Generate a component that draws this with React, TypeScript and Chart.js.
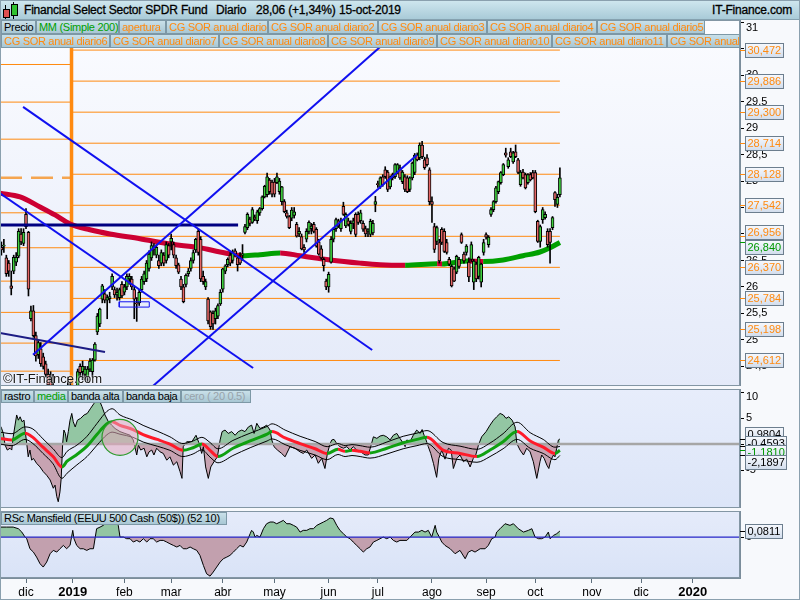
import React, { useEffect, useRef } from 'react';
import { Chart, registerables } from 'chart.js';

Chart.register(...registerables);

const FONT = '"Liberation Sans", Arial, Helvetica, sans-serif';
const ORANGE = '#ff8a10';

// ---------- x axis: trading-session index (0 = first session of December 2018) ----------
const X_MIN = -10.57;
const X_MAX = 290.2;
const monthTicks = [0, 19, 40, 59, 80, 101, 123, 143, 165, 187, 207, 230, 250, 271];
const monthLabels = ['dic', '2019', 'feb', 'mar', 'abr', 'may', 'jun', 'jul', 'ago', 'sep', 'oct', 'nov', 'dic', '2020'];

// ---------- daily candles [open, high, low, close], first one = session -10 ----------
const FIRST_BAR = -10;
const candles = [
  [26.75, 26.85, 26.6, 26.7], [26.77, 26.9, 26.65, 26.78], [26.55, 26.6, 26.2, 26.25], [26.45, 26.5, 26.2, 26.3],
  [26.02, 26.3, 25.85, 25.97], [26.3, 26.6, 26.25, 26.56], [26.47, 26.65, 26.4, 26.56], [26.58, 27.1, 26.55, 27.05],
  [27.0, 27.1, 26.8, 26.85], [26.82, 27.1, 26.78, 27.03],
  // dic
  [27.37, 27.48, 27.1, 27.14], [27.03, 27.05, 25.83, 25.96], [25.4, 25.64, 25.36, 25.55], [25.55, 25.65, 25.05, 25.08],
  [25.08, 25.15, 24.6, 24.7], [24.72, 25.0, 24.65, 24.95], [24.83, 24.95, 24.5, 24.55], [24.68, 24.75, 24.45, 24.5],
  [24.55, 24.6, 24.3, 24.35], [24.35, 24.45, 24.05, 24.15], [24.25, 24.4, 23.95, 24.05], [24.1, 24.35, 23.7, 23.75],
  [23.7, 23.9, 23.3, 23.4], [23.45, 23.7, 23.1, 23.2], [23.2, 23.3, 22.8, 22.85], [23.0, 23.9, 22.95, 23.85],
  [23.6, 24.1, 23.3, 24.05], [24.05, 24.3, 23.85, 23.95], [24.0, 24.2, 23.9, 24.1],
  // 2019 ene
  [23.6, 23.95, 23.5, 23.9], [23.75, 23.9, 23.4, 23.45], [23.95, 24.45, 23.9, 24.4], [24.5, 24.55, 24.3, 24.38],
  [24.4, 24.6, 24.25, 24.5], [24.35, 24.5, 24.25, 24.45], [24.3, 24.5, 24.2, 24.45], [24.45, 24.65, 24.4, 24.6],
  [24.4, 24.65, 24.3, 24.62], [24.62, 24.95, 24.6, 24.92], [25.15, 25.5, 25.1, 25.45], [25.3, 25.6, 25.25, 25.58],
  [25.77, 26.05, 25.7, 26.02], [25.87, 25.95, 25.7, 25.75], [25.75, 25.85, 25.4, 25.8], [25.78, 25.9, 25.7, 25.82],
  [26.0, 26.25, 25.95, 26.2], [25.95, 26.0, 25.8, 25.85], [25.85, 25.98, 25.75, 25.9], [25.8, 25.98, 25.75, 25.95],
  [26.05, 26.1, 25.8, 25.83],
  // feb
  [25.9, 26.05, 25.85, 26.0], [26.0, 26.25, 25.95, 26.2], [26.15, 26.25, 26.05, 26.2], [26.15, 26.2, 25.95, 26.0],
  [25.95, 26.0, 25.4, 25.77], [25.7, 25.8, 25.35, 25.68], [25.7, 25.95, 25.65, 25.9], [25.95, 26.2, 25.9, 26.15],
  [26.1, 26.3, 26.05, 26.25], [26.15, 26.5, 26.1, 26.45], [26.35, 26.68, 26.3, 26.62], [26.55, 26.85, 26.5, 26.78],
  [26.75, 26.82, 26.6, 26.7], [26.6, 26.8, 26.55, 26.75], [26.5, 26.6, 26.35, 26.4], [26.45, 26.7, 26.4, 26.65],
  [26.6, 26.65, 26.4, 26.45], [26.5, 26.85, 26.45, 26.8], [26.78, 26.82, 26.55, 26.6],
  // mar
  [26.85, 27.0, 26.7, 26.92], [26.8, 26.85, 26.55, 26.6], [26.55, 26.6, 26.35, 26.4], [26.42, 26.45, 26.25, 26.28],
  [26.15, 26.2, 25.95, 26.0], [26.0, 26.05, 25.7, 25.72], [26.05, 26.25, 26.0, 26.22], [26.25, 26.35, 26.2, 26.3],
  [26.35, 26.55, 26.3, 26.5], [26.5, 26.7, 26.45, 26.65], [26.7, 26.92, 26.65, 26.9], [27.05, 27.1, 26.6, 26.65],
  [26.9, 26.95, 26.1, 26.15], [26.2, 26.3, 26.05, 26.1], [26.0, 26.15, 25.95, 26.1], [25.77, 25.8, 25.3, 25.36],
  [25.53, 25.55, 25.2, 25.25], [25.5, 25.55, 25.2, 25.3], [25.4, 25.6, 25.3, 25.55], [25.45, 25.68, 25.4, 25.65],
  [25.68, 25.95, 25.65, 25.9],
  // abr
  [25.96, 26.35, 25.9, 26.34], [26.3, 26.42, 26.25, 26.4], [26.42, 26.55, 26.38, 26.52], [26.6, 26.65, 26.4, 26.45],
  [26.5, 26.7, 26.45, 26.65], [26.68, 26.72, 26.58, 26.62], [26.55, 26.6, 26.3, 26.42], [26.55, 26.65, 26.42, 26.45],
  [26.6, 26.8, 26.5, 26.62], [27.03, 27.18, 27.0, 27.14], [27.12, 27.4, 27.08, 27.37], [27.28, 27.32, 27.15, 27.2],
  [27.22, 27.5, 27.2, 27.46], [27.32, 27.36, 27.25, 27.28], [27.25, 27.45, 27.2, 27.42], [27.4, 27.5, 27.35, 27.48],
  [27.48, 27.72, 27.45, 27.7], [27.7, 27.92, 27.68, 27.9], [27.74, 28.15, 27.7, 28.08], [28.02, 28.05, 27.75, 27.8],
  [27.98, 28.02, 27.7, 27.75],
  // may
  [27.98, 28.05, 27.7, 27.75], [27.97, 28.15, 27.95, 28.08], [27.8, 28.05, 27.75, 28.0], [27.61, 27.9, 27.55, 27.89],
  [27.61, 27.65, 27.4, 27.42], [27.4, 27.45, 27.3, 27.33], [27.33, 27.35, 27.1, 27.12], [27.3, 27.5, 27.25, 27.45],
  [27.35, 27.5, 27.3, 27.42], [27.18, 27.22, 26.94, 26.96], [27.0, 27.12, 26.95, 27.05], [26.95, 27.0, 26.7, 26.72],
  [26.75, 26.8, 26.65, 26.7], [26.9, 27.1, 26.85, 27.05], [27.05, 27.25, 27.0, 27.22], [27.1, 27.2, 27.0, 27.15],
  [27.18, 27.22, 27.02, 27.05], [27.09, 27.12, 26.75, 26.77], [26.85, 26.9, 26.6, 26.62], [26.72, 26.78, 26.52, 26.55],
  [26.52, 26.55, 26.3, 26.4], [26.11, 26.15, 25.95, 26.0],
  // jun
  [26.0, 26.28, 25.9, 26.24], [26.47, 26.95, 26.45, 26.9], [26.9, 27.12, 26.85, 27.09], [27.1, 27.3, 27.05, 27.27],
  [27.25, 27.28, 27.12, 27.15], [27.1, 27.3, 27.05, 27.25], [27.52, 27.6, 27.35, 27.37], [27.15, 27.4, 27.12, 27.37],
  [27.25, 27.3, 27.15, 27.18], [27.05, 27.25, 27.0, 27.2], [27.2, 27.3, 27.1, 27.25], [27.37, 27.4, 26.95, 26.99],
  [27.37, 27.42, 27.18, 27.22], [27.25, 27.45, 27.2, 27.4], [27.2, 27.25, 27.05, 27.09], [27.1, 27.15, 26.95, 27.0],
  [27.05, 27.1, 26.95, 27.08], [26.99, 27.28, 26.95, 27.24], [27.02, 27.26, 26.98, 27.2], [27.56, 27.71, 27.42, 27.61],
  // jul
  [27.95, 28.0, 27.88, 27.93], [27.89, 28.08, 27.86, 28.06], [28.08, 28.12, 27.9, 27.93], [28.21, 28.27, 28.05, 28.08],
  [28.17, 28.2, 27.8, 27.84], [27.89, 28.1, 27.85, 28.08], [28.12, 28.15, 28.02, 28.06], [28.08, 28.33, 28.05, 28.31],
  [28.17, 28.33, 28.14, 28.31], [28.25, 28.3, 28.03, 28.06], [27.99, 28.2, 27.95, 28.17], [28.08, 28.12, 27.8, 27.84],
  [28.06, 28.1, 27.78, 27.8], [27.84, 28.08, 27.8, 28.06], [28.06, 28.36, 28.02, 28.34], [28.16, 28.52, 28.12, 28.49],
  [28.49, 28.53, 28.38, 28.4], [28.44, 28.72, 28.4, 28.68], [28.68, 28.75, 28.42, 28.46], [28.4, 28.45, 28.22, 28.25],
  [28.44, 28.5, 28.28, 28.31], [28.21, 28.25, 27.55, 27.61],
  // ago
  [27.61, 27.7, 27.22, 27.56], [27.14, 27.2, 26.65, 26.71], [26.86, 27.15, 26.8, 27.12], [26.84, 26.9, 26.45, 26.49],
  [27.09, 27.12, 26.8, 26.84], [27.05, 27.1, 26.65, 26.67], [26.84, 26.9, 26.62, 26.65], [26.52, 26.56, 26.4, 26.43],
  [26.39, 26.42, 26.0, 26.02], [26.34, 26.38, 26.1, 26.11], [26.28, 26.6, 26.25, 26.58], [26.52, 26.56, 26.35, 26.39],
  [26.99, 27.02, 26.82, 26.84], [26.62, 26.66, 26.45, 26.49], [26.65, 26.8, 26.6, 26.77], [26.47, 26.55, 26.1, 26.19],
  [26.52, 26.85, 26.48, 26.8], [26.09, 26.52, 25.95, 26.49], [26.43, 26.47, 26.1, 26.15], [26.2, 26.58, 26.15, 26.56],
  [26.09, 26.45, 26.0, 26.43], [26.65, 26.9, 26.6, 26.84],
  // sep
  [26.99, 27.02, 26.9, 26.94], [26.8, 26.97, 26.75, 26.94], [27.37, 27.5, 27.33, 27.46], [27.46, 27.63, 27.42, 27.61],
  [27.61, 27.9, 27.58, 27.87], [27.8, 28.0, 27.76, 27.99], [27.97, 28.18, 27.94, 28.16], [28.12, 28.33, 28.1, 28.31],
  [28.53, 28.62, 28.45, 28.49], [28.27, 28.44, 28.24, 28.4], [28.55, 28.62, 28.44, 28.46], [28.36, 28.56, 28.33, 28.53],
  [28.55, 28.68, 28.44, 28.46], [28.4, 28.43, 28.14, 28.16], [27.93, 28.2, 27.9, 28.17], [28.17, 28.22, 28.04, 28.06],
  [28.12, 28.15, 27.85, 27.87], [27.97, 28.14, 27.94, 28.12], [28.12, 28.16, 28.0, 28.02], [28.16, 28.2, 28.04, 28.06],
  // oct
  [28.16, 28.2, 27.4, 27.42], [27.24, 27.26, 26.84, 26.86], [26.86, 27.17, 26.75, 27.14], [27.27, 27.5, 27.2, 27.46],
  [27.31, 27.42, 27.28, 27.37], [27.05, 27.1, 26.75, 26.8], [27.05, 27.1, 26.45, 26.84], [27.12, 27.33, 27.08, 27.31],
  [27.78, 27.8, 27.52, 27.65], [27.56, 27.75, 27.5, 27.69], [27.74, 28.25, 27.7, 28.06],
];

// ---------- 200-session simple moving average ----------
const maX = [-10.57, -2.4, 5.7, 11.8, 17.9, 26, 34.1, 46.3, 58.5, 70.7, 78.9, 88.2, 95.1, 103.3, 111.4, 123.6, 135.8, 143.9, 154.1, 167.1, 169.1, 179.7, 185.8, 193.9, 202, 208.9, 213, 217];
const maY = [27.77, 27.7, 27.51, 27.36, 27.19, 27.08, 27.0, 26.91, 26.81, 26.74, 26.66, 26.59, 26.61, 26.64, 26.59, 26.51, 26.45, 26.42, 26.41, 26.44, 26.435, 26.49, 26.48, 26.51, 26.59, 26.66, 26.74, 26.84];

// ---------- annual SOR levels ----------
const sor2019 = [30.472, 29.886, 29.3, 28.714, 28.128, 27.542, 26.956, 26.37, 25.784, 25.198, 24.612];
const sor2018 = [30.2, 29.49, 28.79, 27.4, 26.74, 26.11, 25.52, 24.94, 24.41];
const apertura2018 = 28.06;
const YEAR_START = 18.5;
const LAST_BAR = 217;

// ---------- drawn trend lines [x1, y1, x2, y2] ----------
const blueLines = [
  [-1.2, 29.4, 140.7, 24.81],
  [-10.57, 27.77, 92.3, 24.47],
  [2.85, 24.72, 143.9, 30.53],
  [51.6, 24.13, 158.9, 28.49],
];
const navyHorizontal = [-10.57, 27.17, 86.2, 27.17];
const navyDiagonal = [-10.57, 25.13, 32.1, 24.77];
const rectX = [37.9, 50.1];
const rectY = [25.62, 25.72];

// ---------- oscillator panel ----------
const rastro = [
  [-10.6, 3.65], [-9.9, 3.0], [-9.2, 2.05], [-8.5, -0.2], [-7.6, -1.15], [-6.5, -0.8], [-5.8, -1.15], [-5.2, 1.4],
  [-3.8, 5.6], [-3.1, 4.6], [-2.4, 5.25], [-1.6, 4.3], [-0.8, 4.6], [-0.3, 2.4], [0.3, 0.1], [0.9, -2.45],
  [1.6, -1.15], [2.3, -3.1], [3.0, -2.75], [4.3, -3.7], [5.7, -4.4], [7.0, -5.3], [8.4, -6.0], [9.8, -6.9],
  [11.1, -8.5], [11.8, -7.9], [12.5, -10.1], [13.1, -11.1], [13.8, -9.2], [14.3, -6.6], [14.9, 0.1], [15.4, 2.7],
  [16.0, 2.05], [16.5, 0.45], [17.2, 2.4], [17.9, 4.6], [18.6, 5.9], [19.2, 4.3], [20.0, 3.3], [20.9, 4.6],
  [22.2, 4.95], [23.6, 5.6], [24.9, 5.9], [26.3, 6.9], [27.6, 7.8], [29.0, 8.8], [30.1, 8.1], [30.9, 7.2],
  [32.1, 5.6], [33.5, 4.3], [34.8, 3.65], [36.2, 3.0], [38.2, 2.4], [40.2, 2.05], [42.3, 1.7], [43.6, 0.8],
  [45.0, -2.1], [45.7, -0.2], [46.6, -1.15], [48.0, -0.8], [49.1, -2.45], [50.0, -1.5], [51.1, -1.15], [52.0, -2.1],
  [53.1, -0.8], [54.5, -1.5], [55.8, -1.8], [57.2, -3.1], [58.5, -2.45], [59.9, -4.05], [61.3, -3.4], [62.6, -5.3],
  [63.4, -6.6], [63.9, -0.5], [65.3, 0.45], [67.4, 0.45], [69.1, 1.7], [70.4, 0.1], [71.4, -1.8], [72.1, -0.5],
  [73.0, -4.4], [74.1, -6.6], [75.1, -4.4], [76.4, -3.4], [77.8, -2.45], [78.9, 0.8], [79.7, 2.4], [80.9, 2.7],
  [82.2, 2.05], [83.6, 2.4], [85.0, 1.7], [86.3, 2.4], [87.7, 2.7], [89.0, 2.4], [90.4, 3.3], [91.7, 3.65],
  [92.7, 2.05], [93.8, 4.0], [95.1, 3.0], [96.7, 3.3], [97.8, 3.65], [99.2, 2.7], [99.9, 0.8], [100.8, -0.5],
  [102.2, -1.15], [103.9, -1.8], [105.3, -2.45], [107.3, -0.5], [109.3, -0.8], [111.4, -1.5], [112.7, -1.8], [114.1, -1.15],
  [116.1, -2.75], [117.5, -2.1], [118.8, -3.7], [120.2, -2.75], [121.5, -4.7], [122.5, -1.8], [123.6, 0.1], [124.3, 0.8],
  [125.2, 0.9], [126.3, 0.1], [127.6, -0.5], [129.0, -0.8], [130.4, -0.5], [131.7, -1.15], [133.0, -0.5], [134.4, -1.15],
  [136.1, -1.5], [137.8, -2.1], [139.1, -2.1], [140.1, -0.5], [141.2, 1.4], [142.6, 1.1], [143.9, 1.55], [145.2, 1.7],
  [146.6, 1.4], [148.0, 0.8], [149.3, 1.7], [150.7, 2.05], [152.0, 1.1], [153.4, 0.1], [154.1, -0.5], [154.8, 0.8],
  [156.1, 0.45], [157.4, 1.7], [158.8, 2.7], [160.2, 2.05], [161.0, 2.8], [161.8, 1.7], [162.6, 0.8], [163.5, -0.5],
  [164.5, -1.8], [165.6, -3.7], [166.9, -6.4], [167.8, -2.75], [169.0, -1.15], [170.3, -2.9], [171.7, -0.8], [172.8, -1.15],
  [173.7, -4.7], [175.1, -2.75], [176.4, -2.1], [177.8, -3.4], [179.1, -2.9], [180.5, -4.4], [181.8, -2.75], [182.8, -2.1],
  [183.9, -0.2], [185.2, 1.4], [187.0, 2.4], [188.6, 3.65], [190.0, 4.6], [191.3, 5.25], [192.7, 5.9], [194.0, 5.6],
  [195.1, 4.95], [196.2, 5.25], [197.6, 4.6], [198.8, 3.3], [199.5, 0.1], [200.8, -1.15], [202.2, -2.1], [203.5, -0.8],
  [204.9, -1.5], [206.2, -3.4], [207.6, -6.6], [208.9, -3.4], [209.6, -2.1], [210.6, -2.75], [211.7, -4.05], [212.5, -4.7],
  [213.3, -3.1], [214.4, -2.1], [215.0, -2.45], [215.7, -0.8], [216.4, 0.8], [217, 0.9804],
];
const mediaX = [-10.6, -5.7, -0.4, 2.8, 6.9, 11, 14.6, 16.7, 20.7, 24.8, 28.9, 32.9, 35, 38.2, 43.5, 47.6, 53.3, 58.5, 63.8, 67.9, 71.5, 74.8, 78, 84.1, 91.1, 98, 100, 105.3, 111.4, 117.5, 122.4, 126.8, 129.7, 132.5, 135.8, 139.8, 146.7, 153.3, 158.9, 163, 169.5, 176.4, 183.3, 188.6, 193.9, 199.6, 204.9, 210.2, 215, 217];
const mediaY = [1.1, 0.8, 2.1, 1.3, -0.6, -2.4, -4.4, -3.3, -2.0, -0.4, 1.9, 3.9, 4.3, 3.6, 2.8, 1.8, 0.9, 0.0, -1.2, -0.7, 0.0, -1.2, -2.4, -0.8, 0.6, 1.9, 2.4, 1.2, 0.1, -0.9, -1.8, -1.0, -1.4, -1.2, -1.4, -1.7, -0.8, 0.25, 0.9, 1.3, -1.15, -1.8, -2.4, -1.15, 0.45, 2.4, 0.6, -0.6, -1.8, -1.181];
const bandaAltaY = [2.3, 2.0, 3.3, 2.9, 1.0, -0.9, -2.6, -1.4, -0.2, 1.5, 4.0, 6.3, 6.8, 5.6, 4.6, 3.6, 2.5, 1.4, 0.1, 0.6, 1.3, 0.3, -0.9, 0.7, 2.1, 3.4, 3.9, 2.7, 1.5, 0.5, -0.5, 0.1, -0.3, -0.1, -0.3, -0.6, 0.4, 1.5, 2.1, 2.6, 0.3, -0.4, -1.0, 0.2, 2.0, 4.2, 2.2, 0.9, -0.6, -0.4593];
const bandaBajaY = [0.0, -0.3, 0.9, 0.1, -1.8, -3.8, -6.6, -5.6, -4.0, -2.4, -0.2, 1.8, 2.3, 1.9, 1.3, 0.4, -0.4, -1.2, -2.4, -1.9, -1.1, -2.5, -3.6, -2.2, -0.7, 0.6, 1.0, -0.1, -1.2, -2.1, -3.0, -2.0, -2.4, -2.2, -2.4, -2.7, -1.9, -0.9, -0.3, 0.1, -2.4, -3.0, -3.5, -2.4, -0.9, 0.9, -0.8, -1.8, -3.0, -2.1897];
const circleMark = { x: 38.2, y: 1.3, r: 18 };

// ---------- RSc Mansfield ----------
const rsc = [
  [-10.6, 0.134], [-7.9, 0.134], [-5.2, 0.134], [-3.1, 0.112], [-1.7, 0.067], [-0.4, 0], [0.3, -0.022], [1.6, -0.157],
  [3.0, -0.202], [4.3, -0.269], [5.7, -0.358], [7.0, -0.403], [8.4, -0.336], [9.8, -0.224], [11.1, -0.179], [12.5, -0.202],
  [13.8, -0.157], [15.2, -0.112], [16.5, -0.157], [17.9, -0.112], [19.0, 0.09], [19.5, -0.022], [20.6, -0.112], [22.0, -0.157],
  [23.3, -0.157], [24.7, -0.179], [26.0, -0.157], [27.4, -0.157], [28.7, 0.112], [30.1, 0.134], [31.4, 0.157], [32.8, 0.202],
  [34.1, 0.224], [35.5, 0.179], [36.9, 0.246], [37.5, 0.157], [38.2, 0], [39.6, 0], [40.9, -0.022], [42.3, -0.022],
  [43.6, -0.067], [45.0, -0.045], [46.3, -0.067], [47.7, -0.022], [49.1, -0.067], [50.4, -0.022], [51.7, -0.022], [53.1, -0.067],
  [54.5, -0.045], [55.8, -0.045], [57.2, -0.067], [58.5, -0.09], [59.9, -0.112], [61.3, -0.134], [62.6, -0.112], [63.9, -0.157],
  [65.3, -0.157], [66.7, -0.134], [68.0, -0.157], [69.4, -0.179], [70.7, -0.246], [72.1, -0.381], [73.4, -0.493], [74.8, -0.525],
  [76.1, -0.47], [77.5, -0.403], [78.9, -0.336], [80.2, -0.291], [81.6, -0.269], [82.9, -0.246], [84.3, -0.202], [85.6, -0.157],
  [87.0, -0.112], [88.3, -0.134], [89.7, -0.067], [91.1, 0.045], [91.7, 0.09], [92.4, 0.067], [93.1, 0], [93.8, 0.022],
  [95.1, 0], [96.5, 0.112], [97.8, 0.179], [99.2, 0.202], [100.5, 0.202], [101.9, 0.179], [103.3, 0.202], [104.6, 0.224],
  [106.0, 0.179], [107.3, 0.179], [108.7, 0.157], [110.0, 0.134], [111.4, 0.067], [112.7, 0.09], [114.1, 0.09], [115.4, 0.112],
  [116.8, 0.112], [118.2, 0.157], [119.5, 0.179], [120.9, 0.202], [122.2, 0.224], [123.6, 0.256], [124.9, 0.246], [126.3, 0.157],
  [127.6, 0.09], [129.0, 0.045], [130.4, 0], [131.7, -0.022], [133.0, -0.067], [134.4, -0.112], [135.8, -0.157], [137.1, -0.202],
  [138.5, -0.157], [139.8, -0.134], [141.2, -0.067], [142.6, -0.045], [143.9, -0.022], [145.2, 0], [146.6, -0.022], [148.0, 0],
  [149.3, -0.045], [150.7, -0.067], [152.0, -0.045], [154.8, -0.045], [156.1, 0], [158.1, 0.067], [159.5, 0.067], [160.9, 0.09],
  [162.2, 0.067], [163.5, 0.09], [164.9, 0], [166.3, 0.157], [166.9, 0.067], [168.0, 0], [169.0, -0.067], [170.3, -0.112],
  [172.4, -0.157], [174.4, -0.224], [176.4, -0.179], [178.5, -0.291], [179.8, -0.202], [181.2, -0.179], [182.5, -0.202], [184.6, -0.157],
  [186.6, -0.157], [187.9, -0.112], [189.3, -0.022], [190.7, 0], [191.3, 0.067], [192.7, 0.112], [194.7, 0.179], [196.7, 0.157],
  [198.1, 0.179], [200.1, 0.112], [202.2, 0.067], [204.2, 0.09], [205.6, 0.112], [206.9, 0], [208.3, -0.022], [209.6, -0.022],
  [211.0, 0], [212.3, 0.067], [213.0, -0.022], [214.4, 0.022], [215.7, 0.045], [217, 0.0811],
];

// ---------- helpers ----------
const pts = (xs: number[], ys: number[]) => xs.map((x, k) => ({ x, y: ys[k] }));
const pairs = (a: number[][]) => a.map(([x, y]) => ({ x, y }));
const seg = (l: number[]) => [{ x: l[0], y: l[1] }, { x: l[2], y: l[3] }];
const comma = (v: number, d: number) => v.toFixed(d).replace('.', ',');

function lineDs(data: any[], color: string, width: number, order: number, extra: any = {}) {
  return { type: 'line', data, borderColor: color, borderWidth: width, pointRadius: 0, pointHoverRadius: 0, tension: 0, fill: false, order, ...extra };
}

function spread(nat: number[], gap: number) {
  const sorted = nat.map((y, idx) => ({ idx, y })).sort((a, b) => a.y - b.y);
  let clusters = sorted.map((s) => ({ members: [s], center: s.y }));
  let changed = true;
  while (changed) {
    changed = false;
    for (let k = 0; k < clusters.length - 1; k++) {
      const a = clusters[k];
      const b = clusters[k + 1];
      const aBottom = a.center + ((a.members.length - 1) * gap) / 2;
      const bTop = b.center - ((b.members.length - 1) * gap) / 2;
      if (bTop - aBottom < gap) {
        const members = a.members.concat(b.members);
        const center = members.reduce((s, m) => s + m.y, 0) / members.length;
        clusters.splice(k, 2, { members, center });
        changed = true;
        break;
      }
    }
  }
  const out: number[] = new Array(nat.length);
  clusters.forEach((c) => c.members.forEach((m, j) => { out[m.idx] = c.center + (j - (c.members.length - 1) / 2) * gap; }));
  return out;
}

function panelPlugin(top: string, bottom: string, boxes: { value: number; text: string; color: string }[], gap: number, edge?: { value: number; text: string }) {
  return {
    id: 'panel',
    beforeDraw(chart: any) {
      const { ctx, chartArea: a } = chart;
      const g = ctx.createLinearGradient(0, a.top, 0, a.bottom);
      g.addColorStop(0, top);
      g.addColorStop(1, bottom);
      ctx.save();
      ctx.fillStyle = g;
      ctx.fillRect(a.left, a.top, a.right - a.left, a.bottom - a.top);
      ctx.restore();
    },
    afterDraw(chart: any) {
      const { ctx, chartArea: a } = chart;
      const ys = chart.scales.y;
      ctx.save();
      ctx.strokeStyle = '#8396a4';
      ctx.lineWidth = 1;
      ctx.strokeRect(a.left + 0.5, a.top + 0.5, a.right - a.left - 1, a.bottom - a.top - 1);
      ctx.font = `11px ${FONT}`;
      ctx.textBaseline = 'middle';
      if (edge) {
        const py = Math.max(ys.getPixelForValue(edge.value), a.top + 7.5);
        ctx.fillStyle = '#000';
        ctx.fillText(edge.text, a.right + 6, py);
      }
      const nat = boxes.map((b) => ys.getPixelForValue(b.value));
      const pos = spread(nat, gap);
      boxes.forEach((b, k) => {
        ctx.strokeStyle = b.color;
        ctx.beginPath();
        ctx.moveTo(a.right, Math.round(nat[k]) + 0.5);
        ctx.lineTo(a.right + 5, Math.round(nat[k]) + 0.5);
        ctx.stroke();
      });
      const orderIdx = boxes.map((_, k) => k).sort((p, q) => pos[p] - pos[q]);
      orderIdx.forEach((k) => {
        const b = boxes[k];
        const w = Math.round(ctx.measureText(b.text).width) + 4;
        const h = 14;
        const x = a.right + 5;
        const y = Math.round(pos[k] - h / 2);
        const g = ctx.createLinearGradient(0, y, 0, y + h);
        g.addColorStop(0, '#f8fafe');
        g.addColorStop(1, '#d3deed');
        ctx.fillStyle = g;
        ctx.fillRect(x + 0.5, y + 0.5, w, h);
        ctx.strokeStyle = '#6c7e8e';
        ctx.strokeRect(x + 0.5, y + 0.5, w, h);
        ctx.fillStyle = b.color;
        ctx.fillText(b.text, x + 2.5, y + h / 2 + 1);
      });
      ctx.restore();
    },
  };
}

function yAxis(min: number, max: number, ticks: any, extra: any = {}) {
  return {
    position: 'right',
    min,
    max,
    afterFit: (s: any) => { s.width = 60; s.paddingTop = 0; s.paddingBottom = 0; },
    grid: { drawOnChartArea: false, drawTicks: true, tickLength: 4, color: '#000' },
    border: { display: true, color: '#7b8d9b' },
    ticks: { color: '#000', font: { family: FONT, size: 11 }, padding: 2, includeBounds: false, ...ticks },
    ...extra,
  };
}

const hiddenX = { type: 'linear', min: X_MIN, max: X_MAX, offset: false, display: false };
const baseOptions = {
  responsive: false,
  animation: false,
  devicePixelRatio: 1,
  events: [],
  plugins: { legend: { display: false }, tooltip: { enabled: false } },
};

function priceConfig(): any {
  const wick = candles.map((c, k) => ({ x: FIRST_BAR + k, y: [c[2], c[1]] }));
  const body = candles.map((c, k) => ({ x: FIRST_BAR + k, y: [c[0], c[3]] }));
  const datasets: any[] = [];
  sor2018.forEach((lv) => datasets.push(lineDs([{ x: X_MIN, y: lv }, { x: YEAR_START, y: lv }], ORANGE, 1, 6)));
  sor2019.forEach((lv) => datasets.push(lineDs([{ x: YEAR_START, y: lv }, { x: LAST_BAR, y: lv }], ORANGE, 1, 6)));
  datasets.push(lineDs([{ x: X_MIN, y: apertura2018 }, { x: YEAR_START, y: apertura2018 }], '#f5a550', 2.5, 6, { borderDash: [22, 9] }));
  datasets.push(lineDs([{ x: YEAR_START, y: 23 }, { x: YEAR_START, y: 32 }], ORANGE, 3.5, 5));
  datasets.push(lineDs(pts(maX, maY), '#cc0033', 5, 4, {
    cubicInterpolationMode: 'monotone',
    segment: { borderColor: (c: any) => (c.p1.parsed.y >= c.p0.parsed.y ? '#00a000' : '#cc0033') },
  }));
  datasets.push({ type: 'bar', data: wick, backgroundColor: '#000', barThickness: 1, grouped: false, order: 3 });
  datasets.push({
    type: 'bar', data: body, grouped: false, order: 2, barThickness: 3, minBarLength: 1,
    borderColor: '#000', borderWidth: 1, borderSkipped: false,
    backgroundColor: (c: any) => (c.raw && c.raw.y[1] >= c.raw.y[0] ? '#3fcf3f' : '#e46666'),
  });
  datasets.push(lineDs(seg(navyHorizontal), '#000080', 3, 1));
  datasets.push(lineDs(seg(navyDiagonal), '#1c1c84', 2, 1));
  blueLines.forEach((l) => datasets.push(lineDs(seg(l), '#1010f0', 2, 0)));
  datasets.push(lineDs([
    { x: rectX[0], y: rectY[0] }, { x: rectX[1], y: rectY[0] }, { x: rectX[1], y: rectY[1] },
    { x: rectX[0], y: rectY[1] }, { x: rectX[0], y: rectY[0] },
  ], '#1010f0', 1, 0));

  const boxes = sor2019.map((v) => ({ value: v, text: comma(v, 3), color: ORANGE }));
  boxes.push({ value: maY[maY.length - 1], text: comma(maY[maY.length - 1], 3), color: '#009900' });

  return {
    type: 'bar',
    data: { datasets },
    options: {
      ...baseOptions,
      layout: { autoPadding: false, padding: { top: 20, left: 0, right: 0, bottom: 0 } },
      scales: {
        x: hiddenX,
        y: yAxis(24.13, 31.04, { stepSize: 0.5, callback: (v: number) => (v >= 31 ? '' : String(v).replace('.', ',')) }),
      },
    },
    plugins: [panelPlugin('#fbfcff', '#e4eaf9', boxes, 15.6, { value: 31, text: '31' })],
  };
}

function oscConfig(): any {
  const datasets: any[] = [
    lineDs(pairs(rastro), '#000', 1, 6, { fill: { target: { value: 0 }, above: '#93c6a3', below: '#c7a3b2' } }),
    lineDs([{ x: X_MIN, y: 0 }, { x: X_MAX, y: 0 }], '#a6a6a6', 2.5, 5),
    lineDs(pts(mediaX, bandaAltaY), '#000', 1, 4, { cubicInterpolationMode: 'monotone' }),
    lineDs(pts(mediaX, bandaBajaY), '#000', 1, 4, { cubicInterpolationMode: 'monotone' }),
    lineDs(pts(mediaX, mediaY), '#ff1a2a', 3, 3, {
      cubicInterpolationMode: 'monotone',
      segment: { borderColor: (c: any) => (c.p1.parsed.y >= c.p0.parsed.y ? '#10a010' : '#ff1a2a') },
    }),
    { type: 'bubble', data: [circleMark], backgroundColor: 'rgba(232,170,190,0.55)', borderColor: '#2c9a2c', borderWidth: 1.2, order: 1 },
  ];
  const last = (a: number[]) => a[a.length - 1];
  const boxes = [
    { value: rastro[rastro.length - 1][1], text: comma(rastro[rastro.length - 1][1], 4), color: '#000' },
    { value: last(bandaAltaY), text: comma(last(bandaAltaY), 4), color: '#000' },
    { value: last(mediaY), text: comma(last(mediaY), 4), color: '#009900' },
    { value: last(bandaBajaY), text: comma(last(bandaBajaY), 4), color: '#000' },
  ];
  return {
    type: 'line',
    data: { datasets },
    options: {
      ...baseOptions,
      layout: { autoPadding: false, padding: 0 },
      scales: {
        x: hiddenX,
        y: yAxis(-12.3, 10.6, { callback: (v: number) => (v >= 10 ? '' : String(v)) }, {
          afterBuildTicks: (s: any) => { s.ticks = [10, 5, 0, -5].map((value) => ({ value })); },
        }),
      },
    },
    plugins: [panelPlugin('#e7edfb', '#dce5f8', boxes, 9.3, { value: 10, text: '10' })],
  };
}

function rscConfig(): any {
  const datasets: any[] = [
    lineDs(pairs(rsc), '#000', 1, 3, { fill: { target: { value: 0 }, above: '#93c6a3', below: '#c2a0ae' } }),
    lineDs([{ x: X_MIN, y: 0 }, { x: X_MAX, y: 0 }], '#2626c8', 1.2, 1),
  ];
  const lastV = rsc[rsc.length - 1][1];
  const boxes = [{ value: lastV, text: comma(lastV, 4), color: '#000' }];
  return {
    type: 'line',
    data: { datasets },
    options: {
      ...baseOptions,
      layout: { autoPadding: false, padding: 0 },
      scales: {
        x: {
          type: 'linear', min: X_MIN, max: X_MAX, offset: false,
          afterBuildTicks: (s: any) => { s.ticks = monthTicks.map((value) => ({ value })); },
          afterFit: (s: any) => { s.height = 22; s.paddingLeft = 0; s.paddingRight = 0; },
          grid: { drawOnChartArea: false, drawTicks: true, tickLength: 5, color: '#5d6f7d' },
          border: { display: true, color: '#7b8d9b' },
          ticks: {
            autoSkip: false, maxRotation: 0, minRotation: 0, padding: 2, color: '#000',
            callback: (v: number) => { const k = monthTicks.indexOf(v); return k >= 0 ? monthLabels[k] : ''; },
            font: (c: any) => {
              const k = monthTicks.indexOf(c.tick ? c.tick.value : -999);
              const yr = k >= 0 && /^\d{4}$/.test(monthLabels[k]);
              return { family: FONT, size: yr ? 13 : 12, weight: yr ? 'bold' : 'normal' };
            },
          },
        },
        y: yAxis(-0.55, 0.35, {}, { afterBuildTicks: (s: any) => { s.ticks = [{ value: 0 }]; } }),
      },
    },
    plugins: [panelPlugin('#e5ebfa', '#d9e3f7', boxes, 15)],
  };
}

// ---------- HTML pieces (legends, title) ----------
type Cell = [string, number, number, string];
const priceRow1: Cell[] = [
  ['Precio', 1, 35, '#000'], ['MM (Simple 200)', 36, 83, '#00a000'], ['apertura', 119, 47, ORANGE],
  ['CG SOR anual diario', 166, 102, ORANGE], ['CG SOR anual diario2', 268, 110, ORANGE], ['CG SOR anual diario3', 378, 109, ORANGE],
  ['CG SOR anual diario4', 487, 110, ORANGE], ['CG SOR anual diario5', 597, 108, ORANGE],
];
const priceRow2: Cell[] = [
  ['CG SOR anual diario6', 1, 109, ORANGE], ['CG SOR anual diario7', 110, 109, ORANGE], ['CG SOR anual diario8', 219, 109, ORANGE],
  ['CG SOR anual diario9', 328, 109, ORANGE], ['CG SOR anual diario10', 437, 115, ORANGE], ['CG SOR anual diario11', 552, 115, ORANGE],
  ['CG SOR anual diario12', 667, 73, ORANGE],
];
const oscRow: Cell[] = [
  ['rastro', 1, 33, '#000'], ['media', 34, 34, '#00a000'], ['banda alta', 68, 55, '#000'],
  ['banda baja', 123, 58, '#000'], ['cero ( 20 0.5)', 181, 70, '#98a3ab'],
];
const rscRow: Cell[] = [['RSc Mansfield (EEUU 500 Cash (50$)) (52 10)', 1, 226, '#000']];

function LegendRow({ cells, top, height }: { cells: Cell[]; top: number; height: number }) {
  return (
    <>
      {cells.map(([text, left, width, color]) => (
        <div
          key={text + left}
          style={{
            position: 'absolute', left, top, width, height, boxSizing: 'border-box',
            border: '1px solid #7d98a6', background: 'linear-gradient(#c9e0e9, #a8c7d4)', color,
            font: `11px ${FONT}`, letterSpacing: '-0.3px', lineHeight: `${height - 2}px`, paddingLeft: 2,
            whiteSpace: 'nowrap', overflow: 'hidden',
          }}
        >
          {text}
        </div>
      ))}
    </>
  );
}

export default function App() {
  const priceRef = useRef<HTMLCanvasElement>(null);
  const oscRef = useRef<HTMLCanvasElement>(null);
  const rscRef = useRef<HTMLCanvasElement>(null);

  useEffect(() => {
    const charts = [
      new Chart(priceRef.current as HTMLCanvasElement, priceConfig()),
      new Chart(oscRef.current as HTMLCanvasElement, oscConfig()),
      new Chart(rscRef.current as HTMLCanvasElement, rscConfig()),
    ];
    return () => charts.forEach((c) => c.destroy());
  }, []);

  const titleText: React.CSSProperties = {
    position: 'absolute', top: 3, font: `12px ${FONT}`, letterSpacing: '-0.2px', color: '#000',
    WebkitTextStroke: '0.3px #000', whiteSpace: 'nowrap', lineHeight: '14px',
  };

  return (
    <div style={{ position: 'fixed', left: 0, top: 0, width: 800, height: 600, background: '#f7f9fc', overflow: 'hidden', fontFamily: FONT }}>
      <canvas ref={priceRef} width={800} height={386} style={{ position: 'absolute', left: 0, top: 0, width: 800, height: 386 }} />
      <canvas ref={oscRef} width={800} height={119} style={{ position: 'absolute', left: 0, top: 389, width: 800, height: 119 }} />
      <canvas ref={rscRef} width={800} height={89} style={{ position: 'absolute', left: 0, top: 511, width: 800, height: 89 }} />

      {/* title bar */}
      <div style={{ position: 'absolute', left: 0, top: 0, width: 800, height: 19, background: 'linear-gradient(#d0e7ef, #a9cbd8)', borderBottom: '1px solid #86a2b0' }}>
        <div style={{ position: 'absolute', left: 5, top: 5, width: 1, height: 14, background: '#000' }} />
        <div style={{ position: 'absolute', left: 3, top: 9, width: 5, height: 7, background: '#e05050', border: '1px solid #000' }} />
        <div style={{ position: 'absolute', left: 13, top: 2, width: 1, height: 17, background: '#000' }} />
        <div style={{ position: 'absolute', left: 11, top: 4, width: 5, height: 10, background: '#30c030', border: '1px solid #000' }} />
        <span style={{ ...titleText, left: 24 }}>Financial Select Sector SPDR Fund</span>
        <span style={{ ...titleText, left: 216 }}>Diario</span>
        <span style={{ ...titleText, left: 256 }}>28,06 (+1,34%)</span>
        <span style={{ ...titleText, left: 339 }}>15-oct-2019</span>
        <span style={{ ...titleText, right: 8 }}>IT-Finance.com</span>
      </div>

      <LegendRow cells={priceRow1} top={20} height={14} />
      <LegendRow cells={priceRow2} top={34} height={14} />
      <LegendRow cells={oscRow} top={390} height={13} />
      <LegendRow cells={rscRow} top={512} height={13} />

      <div style={{ position: 'absolute', left: 3, top: 371, font: `13px ${FONT}`, color: '#161616', textShadow: '0 0 2px #fff, 0 0 2px #fff', whiteSpace: 'nowrap' }}>
        ©IT-Finance.com
      </div>

      <div style={{ position: 'absolute', left: 0, top: 0, width: 798, height: 598, border: '1px solid #8aa0ae', pointerEvents: 'none' }} />
    </div>
  );
}
